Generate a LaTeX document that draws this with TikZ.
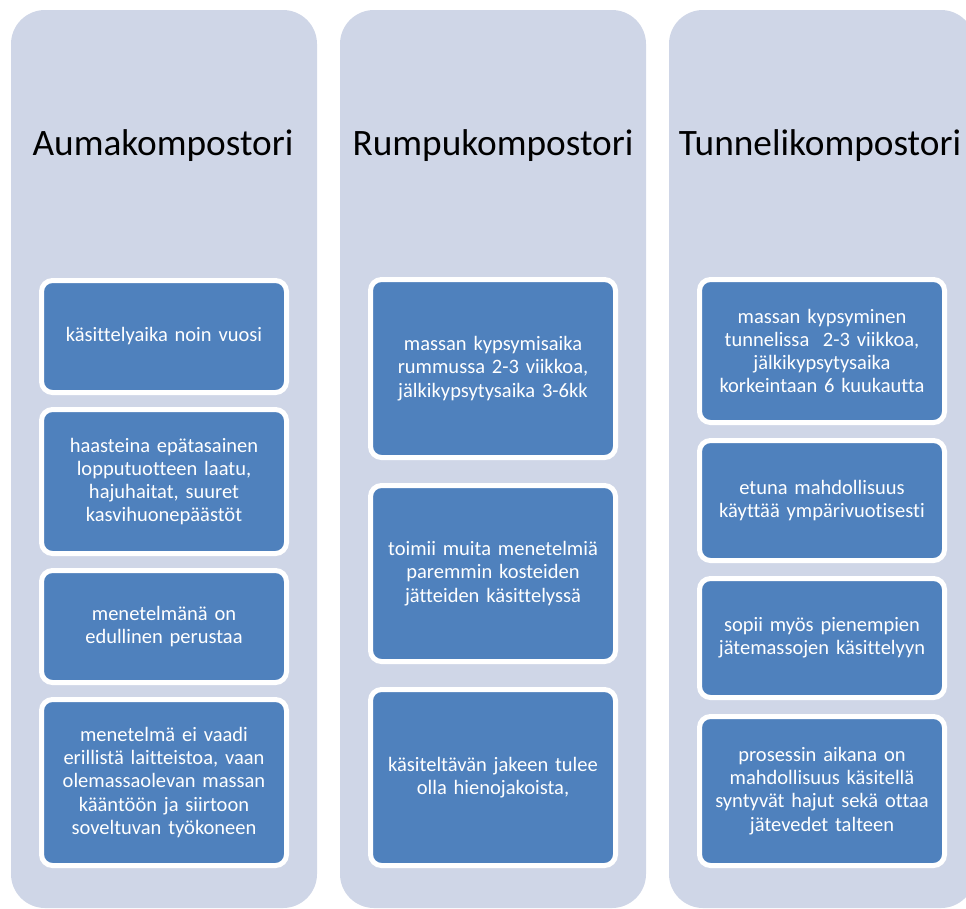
\documentclass[tikz,border=0pt]{standalone}
\usepackage{fontspec}
\setmainfont[Ligatures=NoCommon]{Carlito}
\definecolor{colbg}{HTML}{CFD6E7}
\definecolor{boxblue}{HTML}{4F81BD}
\begin{document}
\begin{tikzpicture}[x=1pt,y=-1pt,
  column/.style={rectangle, fill=colbg, rounded corners=34pt, minimum width=306pt, inner sep=0pt},
  title/.style={font=\fontsize{37.3}{44}\selectfont, text=black, inner sep=0pt},
  item/.style={rectangle, fill=boxblue, draw=white, line width=5pt, rounded corners=11pt,
    minimum width=245pt, text width=240pt, align=center, text=white,
    font=\fontsize{20.5}{23.2}\selectfont, inner sep=0pt}]
\useasboundingbox (0,0) rectangle (966,908);
\clip (0,0) rectangle (966,908);
% columns
\node[column, minimum height=898pt] (c1) at (164,459) {};
\node[column, minimum height=898pt] (c2) at (493,459) {};
\node[column, minimum height=898pt] (c3) at (822,459) {};
% titles
\node[title] (t1) at (163,146) {Aumakompostori};
\node[title] (t2) at (493,146) {Rumpukompostori};
\node[title] (t3) at (820,146) {Tunnelikompostori};
% column 1
\node[item, minimum height=112pt] (a1) at (164,336.5) {käsittelyaika noin vuosi};
\node[item, minimum height=144pt] (a2) at (164,481.5) {haasteina epätasainen\\lopputuotteen laatu,\\hajuhaitat, suuret\\kasvihuonepäästöt};
\node[item, minimum height=112pt] (a3) at (164,626.5) {menetelmänä on\\edullinen perustaa};
\node[item, minimum height=166pt] (a4) at (164,782.5) {menetelmä ei vaadi\\erillistä laitteistoa, vaan\\olemassaolevan massan\\kääntöön ja siirtoon\\soveltuvan työkoneen};
% column 2
\node[item, minimum height=178pt] (b1) at (493,368.5) {massan kypsymisaika\\rummussa 2-3 viikkoa,\\jälkikypsytysaika 3-6kk};
\node[item, minimum height=176pt] (b2) at (493,573.5) {toimii muita menetelmiä\\paremmin kosteiden\\jätteiden käsittelyssä};
\node[item, minimum height=176pt] (b3) at (493,777.5) {käsiteltävän jakeen tulee\\olla hienojakoista,};
% column 3
\node[item, minimum height=143pt] (d1) at (822,351) {massan kypsyminen\\tunnelissa~~2-3 viikkoa,\\jälkikypsytysaika\\korkeintaan 6 kuukautta};
\node[item, minimum height=120pt] (d2) at (822,500.5) {etuna mahdollisuus\\käyttää ympärivuotisesti};
\node[item, minimum height=119pt] (d3) at (822,638) {sopii myös pienempien\\jätemassojen käsittelyyn};
\node[item, minimum height=149pt] (d4) at (822,791) {prosessin aikana on\\mahdollisuus käsitellä\\syntyvät hajut sekä ottaa\\jätevedet talteen};
\end{tikzpicture}
\end{document}
